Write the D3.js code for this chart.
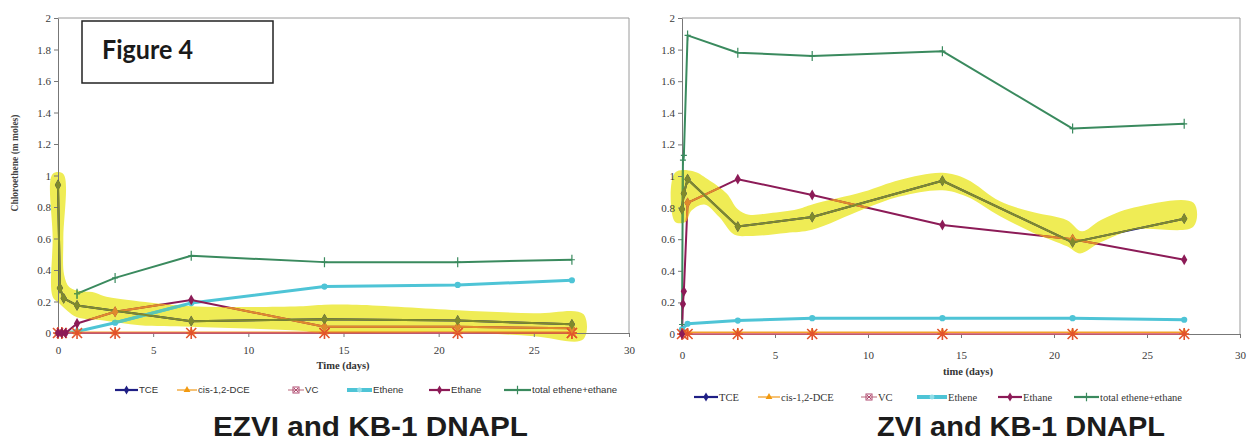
<!DOCTYPE html>
<html><head><meta charset="utf-8">
<script src="https://cdn.jsdelivr.net/npm/d3@7"></script>
<style>
body{margin:0;background:#fff}svg{display:block}
.serif{font-family:"Liberation Serif","Times New Roman",Times,serif}
.sans{font-family:"Liberation Sans",Arial,Helvetica,sans-serif}
</style>
</head><body>
<svg id="c" width="1247" height="442"></svg>
<script>
// ---------- data ----------
const seriesNames = ["TCE","cis-1,2-DCE","VC","Ethene","Ethane","total ethene+ethane"];
const xTicks = [0,5,10,15,20,25,30];
const yTicks = [0,0.2,0.4,0.6,0.8,1,1.2,1.4,1.6,1.8,2];

// EZVI and KB-1 DNAPL  ([time (days), chloroethene (m moles)])
const ezviTCE    = [[0,0.94],[0.1,0.285],[0.3,0.22],[1,0.175],[7,0.075],[14,0.087],[21,0.08],[27,0.055]];
const ezviDCE    = [[0,0.005],[0.2,0.005],[1,0.005],[3,0.005],[7,0.005],[14,0.005],[21,0.005],[27,0.005]];
const ezviVC     = [[0,0],[0.2,0],[1,0],[3,0],[7,0],[14,0],[21,0],[27,0]];
const ezviEthene = [[0,0],[0.3,0],[1,0.01],[3,0.065],[7,0.19],[14,0.295],[21,0.305],[27,0.335]];
const ezviEthane = [[0,0],[0.2,0],[0.4,0],[1,0.06],[3,0.135],[7,0.21],[14,0.04],[21,0.04],[27,0.03]];
const ezviTotal  = [[1,0.25],[3,0.35],[7,0.49],[14,0.45],[21,0.45],[27,0.465]];
// yellow highlighter outline around TCE (data units)
const ezviBand = [[-0.28,1.01],[0.28,1.01],[0.28,0.6],[0.32,0.37],[0.6,0.29],[1.2,0.265],[1.8,0.26],[2.4,0.235],[3,0.22],[4.3,0.2],[7,0.17],[9.6,0.165],[12.7,0.17],[14,0.18],[15.7,0.18],[21,0.145],[25,0.125],[27.6,0.12],[27.6,-0.04],[25,-0.02],[21,0.005],[14,0.0],[12.7,0.015],[7,0.04],[4.3,0.05],[2.4,0.08],[1,0.1],[0.5,0.14],[0.05,0.19],[-0.28,0.23],[-0.28,0.6]];

// ZVI and KB-1 DNAPL
const zviTCE    = [[0,0.79],[0.1,0.89],[0.3,0.98],[3,0.68],[7,0.74],[14,0.97],[21,0.58],[27,0.73]];
const zviDCE    = [[0,0.01],[0.3,0.01],[3,0.01],[7,0.01],[14,0.01],[21,0.01],[27,0.01]];
const zviVC     = [[0,0],[0.3,0],[3,0],[7,0],[14,0],[21,0],[27,0]];
const zviEthene = [[0,0.03],[0.3,0.065],[3,0.085],[7,0.1],[14,0.1],[21,0.1],[27,0.09]];
const zviEthane = [[0,0],[0.05,0.19],[0.1,0.27],[0.3,0.83],[3,0.98],[7,0.88],[14,0.69],[21,0.6],[27,0.47]];
const zviTotal  = [[0,0.06],[0.05,1.1],[0.1,1.13],[0.3,1.89],[3,1.78],[7,1.76],[14,1.79],[21,1.3],[27,1.33]];
const zviBand = [[-0.38,0.71],[-0.38,1.02],[0.6,1.03],[1.5,0.97],[2.4,0.89],[3.0,0.79],[3.6,0.755],[4.7,0.765],[6.2,0.79],[7,0.82],[9.75,0.9],[11.7,0.975],[14,1.02],[15.3,0.98],[17.1,0.84],[18.9,0.77],[20.7,0.72],[21.5,0.65],[22.5,0.72],[24.3,0.8],[27.5,0.83],[27.5,0.68],[24.3,0.66],[22.5,0.58],[21.4,0.51],[20.7,0.555],[18.9,0.64],[17.1,0.745],[15.3,0.87],[14,0.91],[11.7,0.87],[9.75,0.79],[7,0.66],[5.6,0.64],[3.6,0.62],[2.8,0.63],[2.0,0.74],[1.2,0.82],[0.5,0.78],[0.2,0.71]];

// ---------- styles ----------
const style = {
  "TCE":                 {color:"#1f1f85", band:"#7f8a2c", marker:"diamond",  w:2},
  "cis-1,2-DCE":         {color:"#f2a12a", band:"#e8a030", marker:"triangle", w:1.6},
  "VC":                  {color:"#d4506a", band:"#d8603a", marker:"asterisk", w:1.4},
  "Ethene":              {color:"#4ec4d6", band:"#5cc6b4", marker:"circle",   w:3},
  "Ethane":              {color:"#8c1b57", band:"#e08a2c", marker:"diamond",  w:2},
  "total ethene+ethane": {color:"#3a8a5e", band:"#5d9a48", marker:"tick",     w:2}
};
const fmt = d => String(+d.toFixed(1));

const svg = d3.select("#c");

function drawMarker(g, type, cx, cy, color, sc=1){
  if(type==="diamond"){
    g.append("path").attr("d", d3.symbol(d3.symbolDiamond, 34*sc*sc)()).attr("transform",`translate(${cx},${cy})`).attr("fill",color);
  } else if(type==="triangle"){
    g.append("path").attr("d", d3.symbol(d3.symbolTriangle, 28*sc*sc)()).attr("transform",`translate(${cx},${cy})`).attr("fill",color);
  } else if(type==="circle"){
    g.append("path").attr("d", d3.symbol(d3.symbolCircle, 30*sc*sc)()).attr("transform",`translate(${cx},${cy})`).attr("fill",color);
  } else if(type==="asterisk"){
    const r=5*sc;
    g.append("path").attr("d",`M${cx-r},${cy-r}L${cx+r},${cy+r}M${cx-r},${cy+r}L${cx+r},${cy-r}M${cx},${cy-r-1}L${cx},${cy+r+1}M${cx-r},${cy}L${cx+r},${cy}`)
      .attr("stroke","#e2532c").attr("stroke-width",1.6).attr("fill","none");
  } else if(type==="tick"){
    g.append("path").attr("d",`M${cx},${cy-5*sc}L${cx},${cy+5*sc}M${cx-3*sc},${cy}L${cx+3*sc},${cy}`).attr("stroke",color).attr("stroke-width",1.2).attr("fill","none");
  }
}

function panel(cfg){
  const x = d3.scaleLinear().domain([0,30]).range(cfg.xr);
  const y = d3.scaleLinear().domain([0,2]).range(cfg.yr);
  const g = svg.append("g");

  // frame top & right
  g.append("path").attr("d",`M${cfg.xr[0]},${cfg.yr[1]}H${cfg.xr[1]}V${cfg.yr[0]}`).attr("fill","none").attr("stroke","#9a9a9a").attr("stroke-width",1);

  // highlight band
  const bandLine = d3.line().x(d=>x(d[0])).y(d=>y(d[1])).curve(d3.curveCatmullRomClosed.alpha(0.5));
  const bandD = bandLine(cfg.band);
  g.append("path").attr("d",bandD).attr("fill","#efec55");
  svg.append("clipPath").attr("id",cfg.id).append("path").attr("d",bandD);

  // axes
  const ax = g.append("g").attr("transform",`translate(0,${cfg.yr[0]})`)
    .call(d3.axisBottom(x).tickValues(xTicks).tickSize(4).tickSizeOuter(0).tickPadding(cfg.xpad).tickFormat(fmt));
  const ay = g.append("g").attr("transform",`translate(${cfg.xr[0]},0)`)
    .call(d3.axisLeft(y).tickValues(yTicks).tickSize(4).tickSizeOuter(0).tickPadding(3).tickFormat(fmt));
  [ax,ay].forEach(a=>{
    a.attr("font-family",null).attr("font-size",null);
    a.selectAll("text").attr("class","serif").style("font-size","11px").attr("fill","#3a3a3a");
    a.selectAll("line").attr("stroke","#777");
    a.select(".domain").attr("stroke","#777");
  });

  const lineGen = d3.line().x(d=>x(d[0])).y(d=>y(d[1]));
  const order = ["total ethene+ethane","Ethene","cis-1,2-DCE","VC","Ethane","TCE"];
  function drawSeries(layer, colKey){
    order.forEach(n=>{
      const s=style[n], data=cfg.series[n];
      layer.append("path").attr("d",lineGen(data)).attr("fill","none").attr("stroke",s[colKey]).attr("stroke-width",s.w).attr("stroke-linejoin","round");
    });
    order.forEach(n=>{
      const s=style[n], data=cfg.series[n];
      data.forEach(d=>drawMarker(layer, s.marker, x(d[0]), y(d[1]), s[colKey]));
    });
  }
  drawSeries(g.append("g"), "color");
  drawSeries(g.append("g").attr("clip-path",`url(#${cfg.id})`), "band");

  // x title
  g.append("text").attr("class","serif").attr("x",cfg.xtitle[0]).attr("y",cfg.xtitle[1]).attr("text-anchor","middle")
    .style("font-weight","bold").style("font-size","10.5px").attr("fill","#333").text(cfg.xlabel);

  // legend
  const lg = g.append("g");
  seriesNames.forEach((n,i)=>{
    const s=style[n], sx=cfg.leg.sx[i], tx=cfg.leg.tx[i], ly=cfg.leg.y;
    lg.append("line").attr("x1",sx).attr("x2",tx-1).attr("y1",ly).attr("y2",ly).attr("stroke",n==="VC"?"#c98a9a":s.color).attr("stroke-width",n==="Ethene"?4:(n==="cis-1,2-DCE"||n==="VC"?1.3:2.2));
    const mx=(sx+tx-1)/2;
    if(n==="VC"){
      lg.append("rect").attr("x",mx-3).attr("y",ly-3).attr("width",6).attr("height",6).attr("fill","none").attr("stroke","#b04a70").attr("stroke-width",1);
      lg.append("path").attr("d",`M${mx-2},${ly-2}L${mx+2},${ly+2}M${mx-2},${ly+2}L${mx+2},${ly-2}`).attr("stroke","#b04a70").attr("stroke-width",1);
    } else if(n==="Ethene"){
      drawMarker(lg,"circle",mx,ly,"#8fdde8",0.8);
    } else {
      drawMarker(lg, s.marker, mx, ly, n==="cis-1,2-DCE"?"#f29a10":s.color, 0.85);
    }
    lg.append("text").attr("class",cfg.leg.cls).attr("x",tx).attr("y",ly).attr("dy","0.35em")
      .style("font-size",cfg.leg.size+"px").attr("fill","#333").text(n);
  });

  // main title
  g.append("text").attr("class","sans").attr("x",cfg.title.x).attr("y",cfg.title.y)
    .style("font-weight","bold").style("font-size","28px").attr("fill","#1c1c1c")
    .attr("textLength",cfg.title.len).attr("lengthAdjust","spacingAndGlyphs").text(cfg.title.text);
}

panel({
  id:"clipL", xr:[58,629], yr:[333,18], xpad:9, band:ezviBand,
  series:{"TCE":ezviTCE,"cis-1,2-DCE":ezviDCE,"VC":ezviVC,"Ethene":ezviEthene,"Ethane":ezviEthane,"total ethene+ethane":ezviTotal},
  xlabel:"Time (days)", xtitle:[343,369],
  leg:{y:390, sx:[115,177,288,347,429,504], tx:[139,198,305,373,451,532], cls:"sans", size:9.6},
  title:{x:213, y:436, len:315, text:"EZVI and KB-1 DNAPL"}
});
panel({
  id:"clipR", xr:[682,1240], yr:[334,18], xpad:13, band:zviBand,
  series:{"TCE":zviTCE,"cis-1,2-DCE":zviDCE,"VC":zviVC,"Ethene":zviEthene,"Ethane":zviEthane,"total ethene+ethane":zviTotal},
  xlabel:"time (days)", xtitle:[968,375],
  leg:{y:397, sx:[694,758,861,917,998,1074], tx:[719,781,878,948,1023,1100], cls:"serif", size:10.5},
  title:{x:877, y:436, len:288, text:"ZVI and KB-1 DNAPL"}
});

// y-axis title (left chart only)
svg.append("text").attr("class","serif").attr("transform","translate(18,163) rotate(-90)").attr("text-anchor","middle")
  .style("font-weight","bold").style("font-size","9.5px").attr("fill","#444")
  .text("Chloroethene (m moles)");

// Figure 4 box
svg.append("rect").attr("x",82).attr("y",21).attr("width",191).attr("height",62).attr("fill","#fff").attr("stroke","#222").attr("stroke-width",1.5);
svg.append("text").attr("x",102).attr("y",59).style("font-family","Lato, 'Open Sans', sans-serif").style("font-weight","bold")
  .style("font-size","26px").attr("fill","#1a1a1a").attr("textLength",91).attr("lengthAdjust","spacingAndGlyphs").text("Figure 4");
</script>
</body></html>
